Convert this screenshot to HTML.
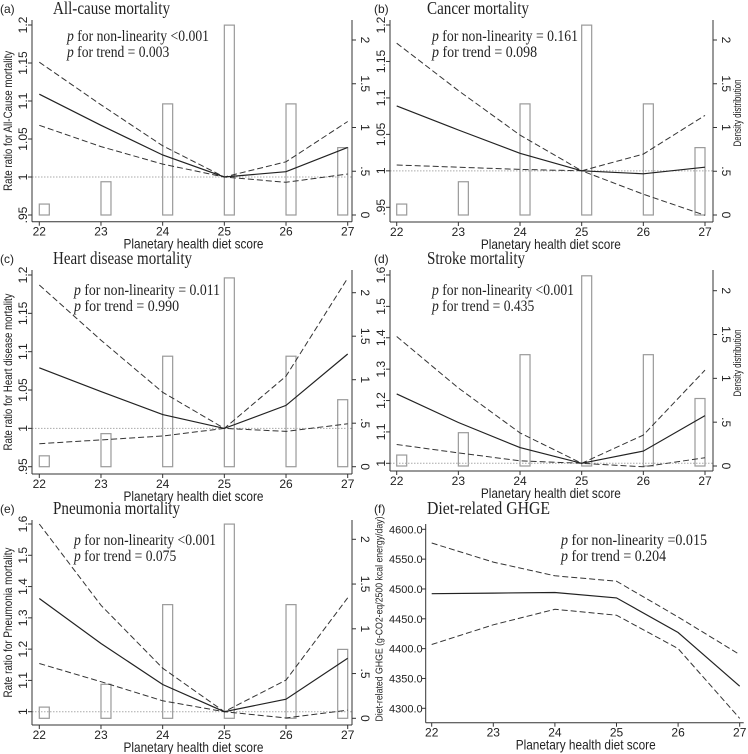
<!DOCTYPE html>
<html><head><meta charset="utf-8"><style>
html,body{margin:0;padding:0;background:#fff;}
svg{display:block;}
.s{font-family:"Liberation Sans",sans-serif;fill:#222;}
.r{font-family:"Liberation Serif",serif;fill:#222;}
</style></head><body>
<svg id="chart" width="748" height="754" viewBox="0 0 748 754"></svg>
<script>
const scores=[22,23,24,25,26,27];
const density=[0.125,0.38,1.27,2.17,1.27,0.77];
const densTicks=[0,0.5,1,1.5,2];
const densLabels=["0",".5","1","1.5","2"];
const estA=[1.109,1.068,1.029,1.0,1.007,1.039], upA=[1.151,1.095,1.041,1.0,1.020,1.073], loA=[1.068,1.040,1.017,1.0,0.993,1.004];
const estB=[1.089,1.056,1.024,1.0,0.996,1.005], upB=[1.175,1.11,1.049,1.0,1.023,1.076], loB=[1.008,1.005,1.002,1.0,0.968,0.939];
const estC=[1.079,1.048,1.018,1.0,1.030,1.097], upC=[1.187,1.115,1.047,1.0,1.068,1.196], loC=[0.980,0.985,0.990,1.0,0.996,1.006];
const estD=[1.221,1.13,1.050,1.0,1.039,1.152], upD=[1.404,1.24,1.097,1.0,1.090,1.297], loD=[1.060,1.033,1.008,1.0,0.989,1.018];
const estE=[1.362,1.218,1.087,1.0,1.040,1.171], upE=[1.600,1.34,1.139,1.0,1.101,1.364], loE=[1.154,1.096,1.035,1.0,0.980,1.005];
const estF=[4492,4493,4494,4485,4427,4337], upF=[4577,4545,4522,4513,4453,4390], loF=[4407,4440,4466,4456,4400,4283];
const rrTicksA=[0.95,1,1.05,1.1,1.15,1.2], rrLabelsA=[".95","1","1.05","1.1","1.15","1.2"];
const rrTicksD=[1,1.1,1.2,1.3,1.4,1.5,1.6], rrLabelsD=["1","1.1","1.2","1.3","1.4","1.5","1.6"];
const ghTicks=[4300,4350,4400,4450,4500,4550,4600], ghLabels=["4300.0","4350.0","4400.0","4450.0","4500.0","4550.0","4600.0"];

const NS="http://www.w3.org/2000/svg";
const svg=document.getElementById('chart');
function mk(tag,attrs,parent,txt){const e=document.createElementNS(NS,tag);for(const k in attrs)e.setAttribute(k,attrs[k]);if(txt!==undefined)e.textContent=txt;(parent||svg).appendChild(e);return e;}

const panels=[
 {id:'a',tag:'(a)',title:'All-cause mortality',tw:117,oy:0,x0:39.3,x1:347.7,yv:[0.95,1.2],yp:[215,25],d0:215,d2:40,axL:32,axR:352,axB:221.7,axT:20,ticks:rrTicksA,labels:rrLabelsA,est:estA,up:upA,lo:loA,p1:'for non-linearity <0.001',p2:'for trend = 0.003',px:67,pw:142,ylab:'Rate ratio for All-Cause mortality',ylw:140,rlab:null,bars:true},
 {id:'b',tag:'(b)',title:'Cancer mortality',tw:102,oy:0,x0:396.7,x1:705,yv:[0.95,1.2],yp:[207.3,25],d0:215,d2:40,axL:390,axR:713,axB:222,axT:20,ticks:rrTicksA,labels:rrLabelsA,est:estB,up:upB,lo:loB,p1:'for non-linearity = 0.161',p2:'for trend = 0.098',px:432,pw:146,ylab:null,rlab:'Density distribution',bars:true},
 {id:'c',tag:'(c)',title:'Heart disease mortality',tw:139,oy:250,x0:39.3,x1:347.7,yv:[0.95,1.2],yp:[466.7,275],d0:466.7,d2:292.7,axL:32,axR:352,axB:474,axT:270,ticks:rrTicksA,labels:rrLabelsA,est:estC,up:upC,lo:loC,p1:'for non-linearity = 0.011',p2:'for trend = 0.990',px:74,pw:146,ylab:'Rate ratio for Heart disease mortality',ylw:157,rlab:null,bars:true},
 {id:'d',tag:'(d)',title:'Stroke mortality',tw:98,oy:250,x0:396.7,x1:705,yv:[1,1.6],yp:[463.3,275],d0:466,d2:290.7,axL:390,axR:713,axB:471,axT:270,ticks:rrTicksD,labels:rrLabelsD,est:estD,up:upD,lo:loD,p1:'for non-linearity <0.001',p2:'for trend = 0.435',px:432,pw:142,ylab:null,rlab:'Density distribution',bars:true},
 {id:'e',tag:'(e)',title:'Pneumonia mortality',tw:127,oy:500,x0:39.3,x1:347.7,yv:[1,1.6],yp:[711.7,524],d0:718.3,d2:539.3,axL:32,axR:352,axB:725,axT:520,ticks:rrTicksD,labels:rrLabelsD,est:estE,up:upE,lo:loE,p1:'for non-linearity <0.001',p2:'for trend = 0.075',px:74,pw:142,ylab:'Rate ratio for Pneumonia mortality',ylw:150,rlab:null,bars:true},
 {id:'f',tag:'(f)',title:'Diet-related GHGE',tw:123,oy:500,x0:431.7,x1:739.7,yv:[4300,4600],yp:[708.3,529.3],axL:425.7,axR:null,axB:722.7,axT:524,ticks:ghTicks,labels:ghLabels,est:estF,up:upF,lo:loF,p1:'for non-linearity =0.015',p2:'for trend = 0.204',px:561,pw:146,ylab:'Diet-related GHGE (g-CO2-eq/2500 kcal energy/day)',ylw:205,rlab:null,bars:false,flatTicks:true}
];

panels.forEach(P=>{
  const g=mk('g',{});
  
  
  const xs=v=>P.x0+(v-22)*(P.x1-P.x0)/5;
  const ys=v=>P.yp[0]+(v-P.yv[0])*(P.yp[1]-P.yp[0])/(P.yv[1]-P.yv[0]);
  const ds=v=>P.d0+v*(P.d2-P.d0)/2;
  const tagX=P.axL<100?0:374;
  const t1=mk('text',{x:tagX,y:P.oy+13,class:'s','font-size':12},g,P.tag);
  
  
  const tt=mk('text',{x:tagX+(P.id==='f'?53:53),y:P.oy+14,class:'r','font-size':18,textLength:P.tw,lengthAdjust:'spacingAndGlyphs'},g,P.title);
  
  
  // bars
  if(P.bars){
    scores.forEach((s,i)=>{
      let bx=xs(s); if(i===scores.length-1) bx-=10;
      const top=ds(density[i]);
      const b=mk('rect',{x:bx,y:top,width:10,height:P.d0-top,fill:'#fff',stroke:'#9a9a9a','stroke-width':1.2},g);
      
      
    });
  }
  // reference line
  if(P.id!=='f'){
    const rl=mk('line',{x1:P.axL,x2:P.axR,y1:ys(1),y2:ys(1),stroke:'#aaa','stroke-width':1,'stroke-dasharray':'1.5,1.5'},g);
    
    
  }
  // series
  const ser=[[P.up,'upper-ci',true],[P.lo,'lower-ci',true],[P.est,'estimate',false]];
  ser.forEach(([arr,nm,dash])=>{
    const pts=scores.map((s,i)=>xs(s).toFixed(1)+','+ys(arr[i]).toFixed(1)).join(' ');
    const pl=mk('polyline',{points:pts,fill:'none',stroke:dash?'#333':'#222','stroke-width':dash?1:1.2,'stroke-dasharray':dash?'6,3':'none'},g);
    
    
  });
  // axes
  const al=mk('line',{x1:P.axL,x2:P.axL,y1:P.axT,y2:P.axB,stroke:'#333','stroke-width':1},g);
  
  
  const ab=mk('line',{x1:P.axL,x2:P.axR||xs(27)+4,y1:P.axB,y2:P.axB,stroke:'#333','stroke-width':1},g);
  
  
  scores.forEach(s=>{
    mk('line',{x1:xs(s),x2:xs(s),y1:P.axB,y2:P.axB+4,stroke:'#333'},g);
    const lt=mk('text',{x:xs(s),y:P.axB+14,class:'s','font-size':12,'text-anchor':'middle'},g,String(s));
    
    
  });
  const xl=mk('text',{x:(xs(22)+xs(27))/2,y:P.axB+27,class:'s','font-size':14,'text-anchor':'middle',textLength:140,lengthAdjust:'spacingAndGlyphs'},g,'Planetary health diet score');
  
  
  P.ticks.forEach((v,i)=>{
    const y=ys(v);
    mk('line',{x1:P.axL-4,x2:P.axL,y1:y,y2:y,stroke:'#333'},g);
    let lt;
    if(P.flatTicks){
      lt=mk('text',{x:P.axL-3,y:y+4,class:'s','font-size':11,'text-anchor':'end'},g,P.labels[i]);
    } else {
      const cx=P.axL-9;
      lt=mk('text',{x:cx,y:y,class:'s','font-size':12,'text-anchor':'middle',transform:`rotate(-90 ${cx} ${y})`,dy:'0.35em'},g,P.labels[i]);
    }
    
    
  });
  if(P.axR){
    const ar=mk('line',{x1:P.axR,x2:P.axR,y1:P.axT,y2:P.axB,stroke:'#333','stroke-width':1},g);
    
    
    densTicks.forEach((v,i)=>{
      const y=ds(v);
      mk('line',{x1:P.axR,x2:P.axR+4,y1:y,y2:y,stroke:'#333'},g);
      const cx=P.axR+13;
      const lt=mk('text',{x:cx,y:y,class:'s','font-size':12,'text-anchor':'middle',transform:`rotate(90 ${cx} ${y})`,dy:'0.35em'},g,densLabels[i]);
      
      
    });
  }
  const my=(P.axT+P.axB)/2;
  if(P.ylab){
    const cx=P.id==='f'?379:8;
    const cy=P.id==='f'?619:my;
    const fs=P.id==='f'?10:12;
    const yl=mk('text',{x:cx,y:cy,class:'s','font-size':fs,'text-anchor':'middle',transform:`rotate(-90 ${cx} ${cy})`,dy:'0.35em',textLength:P.ylw,lengthAdjust:'spacingAndGlyphs'},g,P.ylab);
    
    
  }
  if(P.rlab){
    const cx=737, cy=P.oy+113;
    const rl=mk('text',{x:cx,y:cy,class:'s','font-size':11,'text-anchor':'middle',transform:`rotate(-90 ${cx} ${cy})`,dy:'0.35em',textLength:67,lengthAdjust:'spacingAndGlyphs'},g,P.rlab);
    
    
  }
  const py1=P.oy+(P.id==='a'||P.id==='b'?41:45);
  const py2=py1+16;
  const pa=mk('text',{x:P.px,y:py1,class:'r','font-size':16,textLength:P.pw,lengthAdjust:'spacingAndGlyphs'},g);
  
  
  mk('tspan',{'font-style':'italic'},pa,'p');
  mk('tspan',{},pa,' '+P.p1);
  const pb=mk('text',{x:P.px,y:py2,class:'r','font-size':16,textLength:P.pw*0.72,lengthAdjust:'spacingAndGlyphs'},g);
  
  
  mk('tspan',{'font-style':'italic'},pb,'p');
  mk('tspan',{},pb,' '+P.p2);
});
</script>
</body></html>
